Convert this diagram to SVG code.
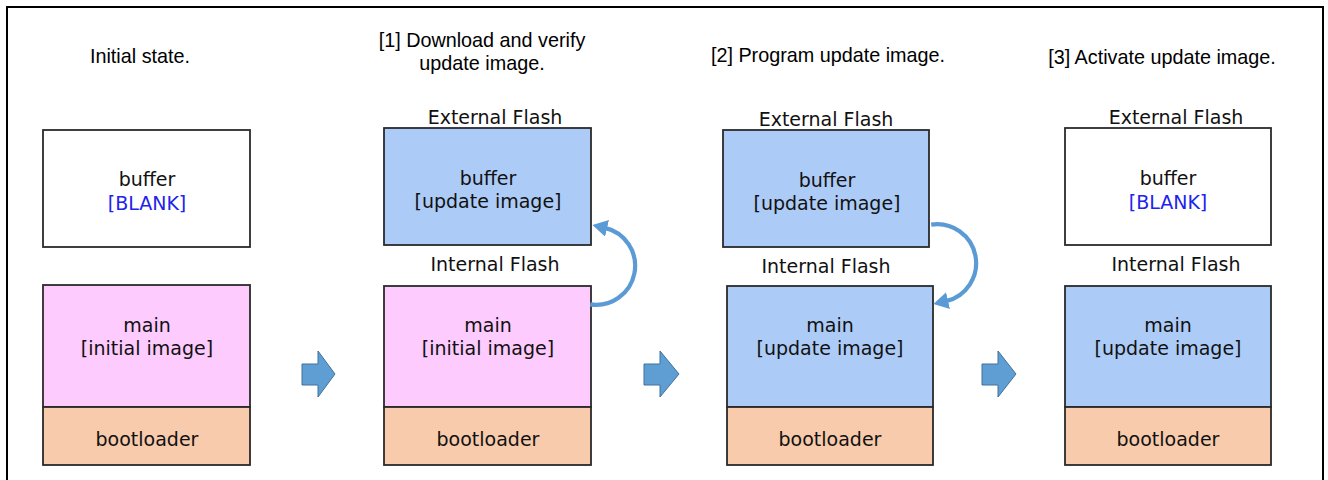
<svg xmlns="http://www.w3.org/2000/svg" width="1328" height="480" viewBox="0 0 1328 480">
<style>
.title{font-family:"Liberation Sans",Arial,sans-serif;font-size:19.8px;fill:#000;text-anchor:middle}
.t{font-family:"DejaVu Sans","Noto Sans",sans-serif;font-size:19px;fill:#111;text-anchor:middle}
.blank{fill:#2222ee}
.box{stroke:#2a2a2a;stroke-width:1.8}
.white{fill:#ffffff}
.blue{fill:#adcbf7}
.pink{fill:#fdcbfd}
.peach{fill:#f7cbac}
.step{fill:#5f9ed3;stroke:#41719c;stroke-width:1}
.curve{fill:none;stroke:#5b9bd5;stroke-width:4.2}
</style>
<defs>
<marker id="ah" markerUnits="userSpaceOnUse" markerWidth="20" markerHeight="20" refX="2" refY="8.5" orient="auto">
<path d="M0,0 L15,8.5 L0,17 Z" fill="#5b9bd5"/>
</marker>
</defs>
<rect x="7" y="7" width="1316" height="490" fill="#fff" stroke="#000" stroke-width="2"/>

<g id="col1">
<text class="title" x="140" y="63">Initial state.</text>
<g id="buf1"><rect class="box white" x="43" y="130" width="207" height="117"/>
<text class="t" x="147" y="186">buffer</text><text class="t blank" x="147" y="210">[BLANK]</text></g>
<g id="main1"><rect class="box pink" x="43" y="285" width="207" height="122"/>
<text class="t" x="147" y="332">main</text><text class="t" x="147" y="355">[initial image]</text></g>
<g id="boot1"><rect class="box peach" x="43" y="407" width="207" height="58"/>
<text class="t" x="147" y="446">bootloader</text></g>
</g>

<g id="col2">
<text class="title" x="482" y="47">[1] Download and verify</text>
<text class="title" x="482" y="70">update image.</text>
<text class="t" x="495" y="124">External Flash</text>
<g id="buf2"><rect class="box blue" x="384" y="128" width="207" height="117"/>
<text class="t" x="488" y="185">buffer</text><text class="t" x="488" y="208">[update image]</text></g>
<text class="t" x="495" y="271">Internal Flash</text>
<g id="main2"><rect class="box pink" x="384" y="286" width="207" height="121"/>
<text class="t" x="488" y="332">main</text><text class="t" x="488" y="355">[initial image]</text></g>
<g id="boot2"><rect class="box peach" x="384" y="407" width="207" height="58"/>
<text class="t" x="488" y="446">bootloader</text></g>
</g>

<g id="col3">
<text class="title" x="828" y="62">[2] Program update image.</text>
<text class="t" x="826" y="126">External Flash</text>
<g id="buf3"><rect class="box blue" x="723" y="130" width="206" height="117"/>
<text class="t" x="827" y="187">buffer</text><text class="t" x="827" y="210">[update image]</text></g>
<text class="t" x="826" y="273">Internal Flash</text>
<g id="main3"><rect class="box blue" x="727" y="286" width="206" height="121"/>
<text class="t" x="830" y="332">main</text><text class="t" x="830" y="355">[update image]</text></g>
<g id="boot3"><rect class="box peach" x="727" y="407" width="206" height="58"/>
<text class="t" x="830" y="446">bootloader</text></g>
</g>

<g id="col4">
<text class="title" x="1162" y="64">[3] Activate update image.</text>
<text class="t" x="1176" y="124">External Flash</text>
<g id="buf4"><rect class="box white" x="1065" y="128" width="206" height="117"/>
<text class="t" x="1168" y="185">buffer</text><text class="t blank" x="1168" y="209">[BLANK]</text></g>
<text class="t" x="1176" y="271">Internal Flash</text>
<g id="main4"><rect class="box blue" x="1065" y="286" width="206" height="121"/>
<text class="t" x="1168" y="332">main</text><text class="t" x="1168" y="355">[update image]</text></g>
<g id="boot4"><rect class="box peach" x="1065" y="407" width="206" height="58"/>
<text class="t" x="1168" y="446">bootloader</text></g>
</g>

<g id="connectors">
<path class="step" d="M302,364 L318,364 L318,351 L335,374 L318,397 L318,385 L302,385 Z"/>
<path class="step" d="M644,364 L660,364 L660,351 L679,374 L660,397 L660,385 L644,385 Z"/>
<path class="step" d="M982,364 L998,364 L998,351 L1016,374 L998,397 L998,385 L982,385 Z"/>
<path class="curve" d="M590.2,304.4 A39,39 0 0 0 605.1,227.9" marker-end="url(#ah)"/>
<path class="curve" d="M931.2,224.6 A39,39 0 0 1 946.1,301.1" marker-end="url(#ah)"/>
</g>
</svg>
